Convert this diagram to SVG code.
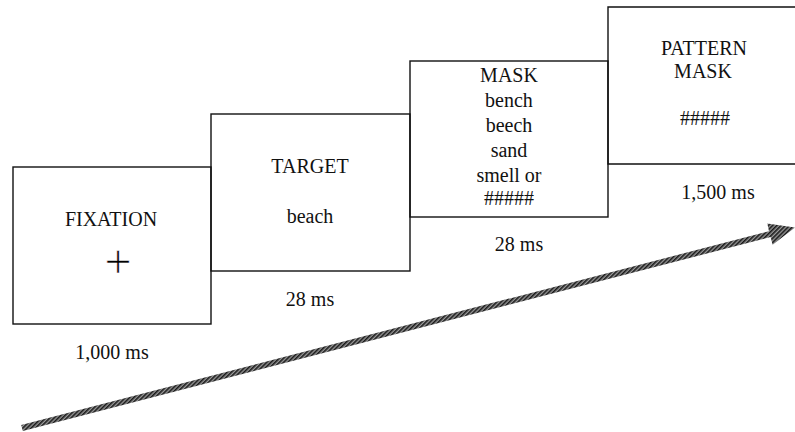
<svg xmlns="http://www.w3.org/2000/svg" width="795" height="432" viewBox="0 0 795 432">
<style>
.box{fill:none;stroke:#111;stroke-width:1.4}
.t{font-family:"Liberation Serif","Times New Roman",serif;font-size:20px;fill:#111;text-anchor:middle}
.plus{font-family:"Liberation Serif","Times New Roman",serif;font-size:48px;fill:#000;stroke:#fff;stroke-width:0.6;text-anchor:middle}
</style>
<defs>
<pattern id="hatch" patternUnits="userSpaceOnUse" width="3" height="3" patternTransform="rotate(45)">
<rect width="3" height="3" fill="#9a9a9a"/>
<rect width="1.6" height="3" fill="#1a1a1a"/>
</pattern>
</defs>
<rect width="795" height="432" fill="#fff"/>
<g id="fixation">
<rect class="box" x="13" y="167" width="198" height="157"/>
<text class="t" x="111" y="226">FIXATION</text>
<text class="plus" x="118" y="278">+</text>
<text class="t" x="112" y="359">1,000 ms</text>
</g>
<g id="target">
<rect class="box" x="211" y="114" width="199" height="157"/>
<text class="t" x="310" y="173">TARGET</text>
<text class="t" x="310" y="223">beach</text>
<text class="t" x="310" y="306">28 ms</text>
</g>
<g id="mask">
<rect class="box" x="410" y="61" width="198" height="156"/>
<text class="t" x="509" y="82">MASK</text>
<text class="t" x="509" y="107">bench</text>
<text class="t" x="509" y="132">beech</text>
<text class="t" x="509" y="157">sand</text>
<text class="t" x="509" y="182">smell or</text>
<text class="t" x="509" y="205">#####</text>
<text class="t" x="519" y="251">28 ms</text>
</g>
<g id="pattern-mask">
<path class="box" d="M796 7 H608 V164 H796"/>
<text class="t" x="704" y="55">PATTERN</text>
<text class="t" x="703" y="78">MASK</text>
<text class="t" x="705" y="125">#####</text>
<text class="t" x="718" y="199">1,500 ms</text>
</g>
<g id="connectors">
<polygon id="time-arrow" fill="url(#hatch)" points="22.8,430.9 21.2,425.1 769,231.2 767.3,223.4 795,227.5 772.6,244.7 770.6,237"/>
</g>
</svg>
